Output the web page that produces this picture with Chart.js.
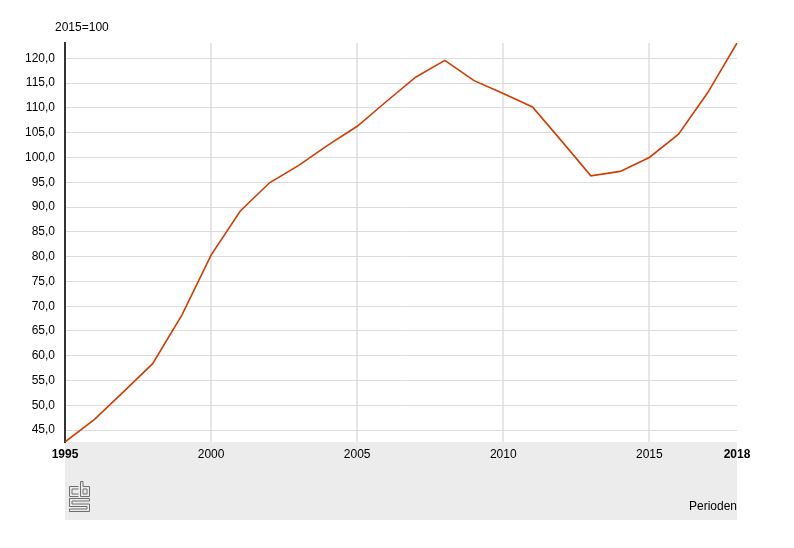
<!DOCTYPE html>
<html>
<head>
<meta charset="utf-8">
<script src="https://cdn.jsdelivr.net/npm/chart.js@4.4.0/dist/chart.umd.min.js"></script>
<style>
html,body{margin:0;padding:0;background:#fff;}
#wrap{width:794px;height:548px;position:relative;}
</style>
</head>
<body>
<div id="wrap"><canvas id="c" width="794" height="548"></canvas></div>
<script>
const years = ['1995','1996','1997','1998','1999','2000','2001','2002','2003','2004','2005','2006','2007','2008','2009','2010','2011','2012','2013','2014','2015','2016','2017','2018'];
const values = [42.6,47.1,52.7,58.4,68.2,80.3,89.2,94.9,98.4,102.5,106.3,111.3,116.2,119.6,115.5,112.9,110.2,103.3,96.3,97.2,100.0,104.7,113.1,123.1];
const xTickLabels = ['1995','2000','2005','2010','2015','2018'];
const xGridYears = ['2000','2005','2010','2015'];
const yTicks = [45,50,55,60,65,70,75,80,85,90,95,100,105,110,115,120];
const yTitle = '2015=100';
const xTitle = 'Perioden';

const FONT = '"Liberation Sans", Arial, sans-serif';

const decor = {
  id: 'decor',
  beforeDraw(chart) {
    const {ctx, chartArea} = chart;
    ctx.save();
    ctx.fillStyle = '#ececec';
    ctx.fillRect(chartArea.left, chartArea.bottom, chartArea.right - chartArea.left, 520 - chartArea.bottom);
    ctx.restore();
  },
  afterDraw(chart) {
    const {ctx, chartArea} = chart;
    ctx.save();
    ctx.font = '12px ' + FONT;
    ctx.fillStyle = '#000';
    ctx.textBaseline = 'middle';
    ctx.textAlign = 'left';
    ctx.fillText(yTitle, 55, 28);
    ctx.textAlign = 'right';
    ctx.fillText(xTitle, chartArea.right, 507);
    // cbs logo
    ctx.strokeStyle = '#6e6e6e';
    ctx.lineWidth = 1;
    const L = 69.5, T = 481.5;
    ctx.beginPath();
    // c
    ctx.moveTo(L + 9, T + 5); ctx.lineTo(L, T + 5); ctx.lineTo(L, T + 15); ctx.lineTo(L + 9, T + 15);
    ctx.moveTo(L + 9, T + 7.5); ctx.lineTo(L + 2.5, T + 7.5); ctx.lineTo(L + 2.5, T + 12.5); ctx.lineTo(L + 9, T + 12.5);
    // b
    ctx.moveTo(L + 11, T); ctx.lineTo(L + 11, T + 15); ctx.lineTo(L + 20, T + 15); ctx.lineTo(L + 20, T + 5); ctx.lineTo(L + 13.5, T + 5); ctx.lineTo(L + 13.5, T);
    ctx.closePath();
    ctx.moveTo(L + 13.5, T + 7.5); ctx.lineTo(L + 17.5, T + 7.5); ctx.lineTo(L + 17.5, T + 12.5); ctx.lineTo(L + 13.5, T + 12.5); ctx.closePath();
    // s
    ctx.moveTo(L + 20, T + 17); ctx.lineTo(L, T + 17); ctx.lineTo(L, T + 25); ctx.lineTo(L + 17.5, T + 25);
    ctx.lineTo(L + 17.5, T + 27.5); ctx.lineTo(L, T + 27.5); ctx.lineTo(L, T + 30); ctx.lineTo(L + 20, T + 30);
    ctx.lineTo(L + 20, T + 22.5); ctx.lineTo(L + 2.5, T + 22.5); ctx.lineTo(L + 2.5, T + 19.5); ctx.lineTo(L + 20, T + 19.5); ctx.closePath();
    ctx.stroke();
    ctx.restore();
  }
};

new Chart(document.getElementById('c'), {
  type: 'line',
  data: {
    labels: years,
    datasets: [{
      data: values,
      borderColor: '#d23c00',
      borderWidth: 1.6,
      pointRadius: 0,
      tension: 0,
      fill: false
    }]
  },
  options: {
    responsive: false,
    animation: false,
    devicePixelRatio: 1,
    layout: { padding: { left: 0, right: 57, top: 43, bottom: 0 } },
    plugins: { legend: { display: false }, tooltip: { enabled: false } },
    scales: {
      x: {
        type: 'category',
        offset: false,
        afterFit(scale) { scale.height = 106; },
        border: { display: false },
        grid: {
          drawTicks: false,
          color: (c) => (c.tick && xGridYears.includes(years[c.index])) ? '#e6e6e6' : 'rgba(0,0,0,0)',
          lineWidth: 2
        },
        ticks: {
          autoSkip: false,
          maxRotation: 0,
          padding: 5,
          color: '#000',
          font: (c) => {
            const lbl = years[c.index];
            const bold = lbl === xTickLabels[0] || lbl === xTickLabels[xTickLabels.length - 1];
            return { family: FONT, size: 12, weight: bold ? 'bold' : 'normal' };
          },
          callback: function (v, i) { return xTickLabels.includes(years[i]) ? years[i] : ''; }
        }
      },
      y: {
        min: 42.6,
        max: 123.1,
        afterFit(scale) { scale.width = 65; },
        afterBuildTicks(scale) { scale.ticks = yTicks.map(v => ({ value: v })); },
        border: { display: true, color: '#333', width: 2 },
        grid: { drawTicks: false, color: '#dcdcdc', lineWidth: 1 },
        ticks: {
          padding: 10,
          color: '#000',
          font: { family: FONT, size: 12 },
          callback: (v) => Number(v).toFixed(1).replace('.', ',')
        }
      }
    }
  },
  plugins: [decor]
});
</script>
</body>
</html>
